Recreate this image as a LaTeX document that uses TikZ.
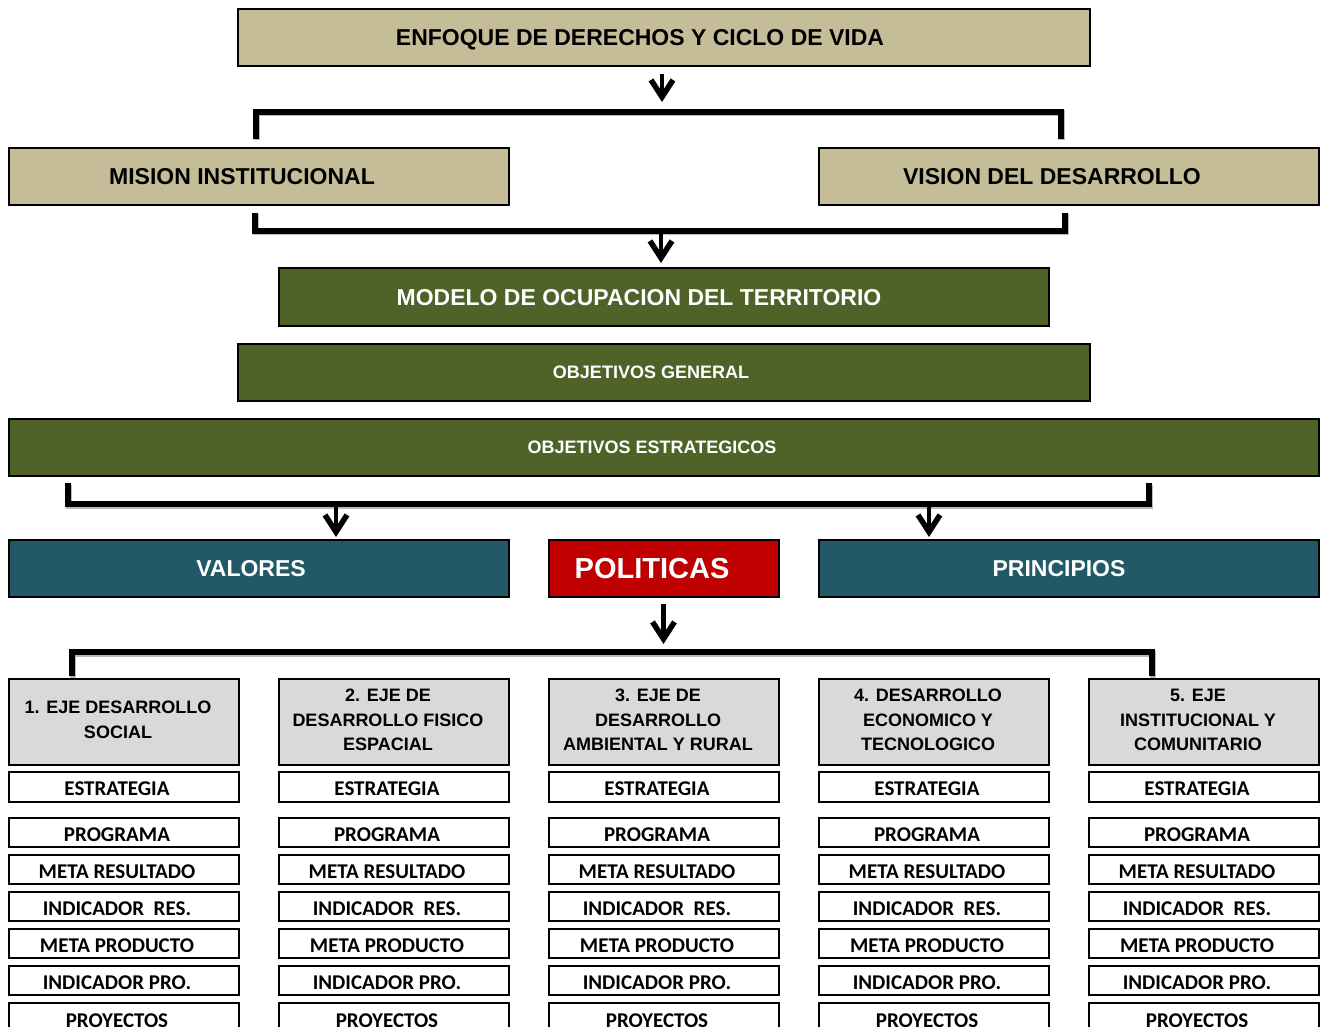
\documentclass[tikz,border=0pt]{standalone}
\usepackage{fontspec}
\setmainfont{Liberation Sans}
\newfontfamily\rowfont{Carlito}
\usetikzlibrary{arrows.meta}
\definecolor{tanfill}{RGB}{196,189,151}
\definecolor{olivefill}{RGB}{79,98,40}
\definecolor{tealfill}{RGB}{33,89,104}
\definecolor{redfill}{RGB}{192,0,0}
\definecolor{greyfill}{RGB}{217,217,217}
\newcommand\bx[6]{\node[#1, minimum width={(#4)-(#2)}, minimum height={(#5)-(#3)}] (#6) at ({((#2)+(#4))/2},{((#3)+(#5))/2}) {};}
\begin{document}
\begin{tikzpicture}[x=1pt,y=-1pt,
  box/.style={draw=black,line width=2pt,inner sep=0pt,outer sep=0pt},
  tanbox/.style={box,fill=tanfill},
  olivebox/.style={box,fill=olivefill},
  tealbox/.style={box,fill=tealfill},
  redbox/.style={box,fill=redfill},
  headbox/.style={box,fill=greyfill},
  rowbox/.style={box,fill=white},
  big/.style={inner sep=0pt,text height=16.5pt,text depth=0pt,font=\bfseries\fontsize{23}{27}\selectfont},
  mid/.style={inner sep=0pt,text height=12.9pt,text depth=0pt,font=\bfseries\fontsize{18}{21}\selectfont},
  huge/.style={inner sep=0pt,text height=20.8pt,text depth=0pt,font=\bfseries\fontsize{29}{33}\selectfont},
  head/.style={inner sep=0pt,align=center,font=\bfseries\fontsize{18}{24.5}\selectfont},
  rowtxt/.style={inner sep=0pt,text height=13.5pt,text depth=0pt,font=\rowfont\bfseries\fontsize{21}{24}\selectfont},
  bracket/.style={line width=6pt,line join=miter},
  shadow/.style={line width=6pt,draw=gray!55,line join=miter,transform canvas={xshift=1pt,yshift=-1.5pt}},
  arr/.style={line width=4.5pt,-{Straight Barb[length=17pt,width=22pt,line width=5.5pt]}}
]
\useasboundingbox (0,0) rectangle (1326,1027);

% main boxes
\bx{tanbox}{238}{9}{1090}{66}{enfoque}
\bx{tanbox}{9}{148}{509}{205}{mision}
\bx{tanbox}{819}{148}{1319}{205}{vision}
\bx{olivebox}{279}{268}{1049}{326}{modelo}
\bx{olivebox}{238}{344}{1090}{401}{objgen}
\bx{olivebox}{9}{419}{1319}{476}{objest}
\bx{tealbox}{9}{540}{509}{597}{valores}
\bx{redbox}{549}{540}{779}{597}{politicas}
\bx{tealbox}{819}{540}{1319}{597}{principios}

\node[big] (enfoque-t) at ([xshift=-24pt]enfoque.center) {ENFOQUE DE DERECHOS Y CICLO DE VIDA};
\node[big] (mision-t) at ([xshift=-17pt]mision.center) {MISION INSTITUCIONAL};
\node[big] (vision-t) at ([xshift=-17pt]vision.center) {VISION DEL DESARROLLO};
\node[big,text=white] (modelo-t) at ([xshift=-25pt]modelo.center) {MODELO DE OCUPACION DEL TERRITORIO};
\node[mid,text=white] (objgen-t) at ([xshift=-13pt]objgen.center) {OBJETIVOS GENERAL};
\node[mid,text=white] (objest-t) at ([xshift=-12pt]objest.center) {OBJETIVOS ESTRATEGICOS};
\node[big,text=white] (valores-t) at ([xshift=-8pt]valores.center) {VALORES};
\node[huge,text=white] (politicas-t) at ([xshift=-12pt]politicas.center) {POLITICAS};
\node[big,text=white] (principios-t) at ([xshift=-10pt]principios.center) {PRINCIPIOS};

% bracket coordinates
\coordinate (b1L) at (256,139);
\coordinate (b1M) at (662,112);
\coordinate (b1R) at (1061,139);
\coordinate (b2L) at (255,213);
\coordinate (b2M) at (661,231);
\coordinate (b2R) at (1065,213);
\coordinate (b3L) at (67.5,483);
\coordinate (b3A) at (336,504);
\coordinate (b3B) at (929,504);
\coordinate (b3R) at (1148.5,483);
\coordinate (b4L) at (71.5,676);
\coordinate (b4M) at (663.5,652);
\coordinate (b4R) at (1152,676);

% shadows
\draw[shadow] (b1L) |- (b1M) -| (b1R);
\draw[shadow] (b2L) |- (b2M) -| (b2R);
\draw[shadow] (b3L) |- (b3A) -| (b3R);
\draw[shadow] (b4L) |- (b4M) -| (b4R);

% brackets
\draw[bracket] (b1L) |- (b1M) -| (b1R);
\draw[bracket] (b2L) |- (b2M) -| (b2R);
\draw[bracket] (b3L) |- (b3A) -| (b3R);
\draw[bracket] (b4L) |- (b4M) -| (b4R);

% arrows
\draw[arr] ([shift={(-2,8)}]enfoque.south) -- ([shift={(0,-10)}]b1M);
\draw[arr] (b2M) -- ([shift={(-3,-5)}]modelo.north);
\draw[arr,shorten >=3pt] (b3A) -- (valores.north -| b3A);
\draw[arr,shorten >=3pt] (b3B) -- (principios.north -| b3B);
\draw[arr] ([shift={(-0.5,7)}]politicas.south) -- ([shift={(0,-8)}]b4M);

% columns
\foreach \c/\h in {1/{1. EJE DESARROLLO\\SOCIAL},
                   2/{2. EJE DE\\DESARROLLO FISICO\\ESPACIAL},
                   3/{3. EJE DE\\DESARROLLO\\AMBIENTAL Y RURAL},
                   4/{4. DESARROLLO\\ECONOMICO Y\\TECNOLOGICO},
                   5/{5. EJE\\INSTITUCIONAL Y\\COMUNITARIO}}{
  \pgfmathsetmacro\xa{9+270*(\c-1)}
  \pgfmathsetmacro\xb{\xa+230}
  \bx{headbox}{\xa}{679}{\xb}{765}{h\c}
  \node[head] (h\c-t) at ([shift={(-6,-2)}]h\c.center) {\h};
  \foreach \r/\ya/\yb/\t in {1/772/802/ESTRATEGIA,
                             2/818/847/PROGRAMA,
                             3/855/884/META RESULTADO,
                             4/892/921/{INDICADOR~~RES.},
                             5/929/958/META PRODUCTO,
                             6/966/995/INDICADOR PRO.,
                             7/1003/1034/PROYECTOS}{
    \bx{rowbox}{\xa}{\ya}{\xb}{\yb}{r\c-\r}
    \node[rowtxt] (r\c-\r-t) at ([shift={(-7,2)}]r\c-\r.center) {\t};
  }
}
\end{tikzpicture}
\end{document}
